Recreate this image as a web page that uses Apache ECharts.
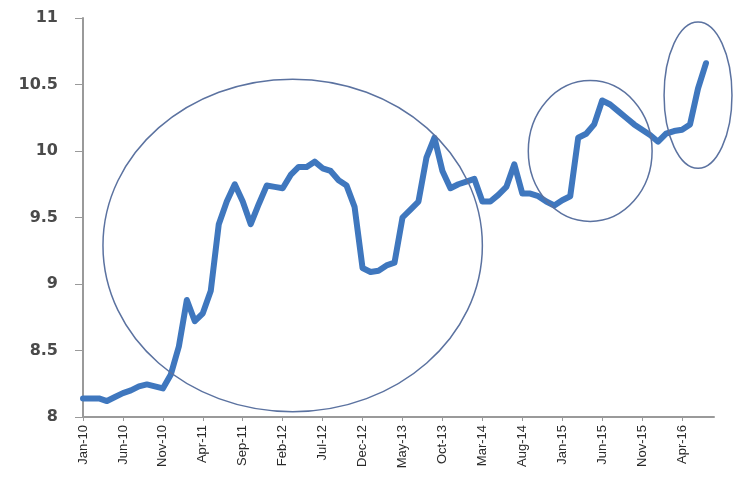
<!DOCTYPE html>
<html>
<head>
<meta charset="utf-8">
<script src="https://cdn.jsdelivr.net/npm/echarts@6/dist/echarts.min.js"></script>
<style>
html,body{margin:0;padding:0;background:#fff;}
#chart{width:734px;height:481px;}
</style>
</head>
<body>
<div id="chart"></div>
<script>
const monthNames = ['Jan','Feb','Mar','Apr','May','Jun','Jul','Aug','Sep','Oct','Nov','Dec'];
const years = ['10','11','12','13','14','15','16'];
const categories = [];
years.forEach(y => monthNames.forEach(m => categories.push(m + '-' + y)));
categories.length = 80; // Jan-10 .. Aug-16

const values = [
  8.14, 8.14, 8.14, 8.12, 8.15, 8.18, 8.20, 8.23, 8.245, 8.23,
  8.215, 8.32, 8.53, 8.88, 8.72, 8.78, 8.95, 9.45, 9.62, 9.75,
  9.62, 9.45, 9.60, 9.74, 9.73, 9.72, 9.82, 9.88, 9.88, 9.92,
  9.87, 9.85, 9.78, 9.74, 9.58, 9.12, 9.09, 9.10, 9.14, 9.16,
  9.50, 9.56, 9.62, 9.95, 10.10, 9.85, 9.72, 9.75, 9.77, 9.79,
  9.62, 9.62, 9.67, 9.73, 9.90, 9.68, 9.68, 9.66, 9.62, 9.59,
  9.63, 9.66, 10.10, 10.13, 10.20, 10.38, 10.35, 10.30, 10.25, 10.20,
  10.16, 10.12, 10.07, 10.13, 10.15, 10.16, 10.20, 10.47, 10.66, null
];

const yTicks = [8, 8.5, 9, 9.5, 10, 10.5, 11];

// annotation ellipses: [centre category index, centre value, radius in months, radius in value units]
const ellipseCentreIdx = [26.25, 63.5, 77];
const ellipseCentreVal = [9.29, 10.0, 10.42];
const ellipseRadIdx = [23.75, 7.75, 4.25];
const ellipseRadVal = [1.25, 0.53, 0.55];

const chart = echarts.init(document.getElementById('chart'));
chart.setOption({
  animation: false,
  backgroundColor: '#fff',
  grid: { left: 83, right: 20, top: 18, bottom: 64, containLabel: false },
  xAxis: {
    type: 'category',
    data: categories,
    boundaryGap: false,
    axisLine: { lineStyle: { color: '#9a9a9a', width: 2 } },
    axisTick: { interval: 4, length: 4, lineStyle: { color: '#9a9a9a' } },
    axisLabel: {
      interval: 4, rotate: 90, margin: 8,
      fontFamily: 'Liberation Sans', fontSize: 13, color: '#2a2a2a'
    },
    splitLine: { show: false }
  },
  yAxis: {
    type: 'value',
    min: yTicks[0], max: yTicks[yTicks.length - 1], interval: 0.5,
    axisLine: { show: true, lineStyle: { color: '#9a9a9a', width: 2 } },
    axisTick: { show: true, length: 8, lineStyle: { color: '#9a9a9a' } },
    axisLabel: {
      margin: 25, fontFamily: 'DejaVu Sans', fontWeight: 'bold',
      fontSize: 16, color: '#4a4a4a'
    },
    splitLine: { show: false }
  },
  series: [{
    type: 'line',
    data: values,
    showSymbol: false,
    smooth: false,
    lineStyle: { color: '#3f77be', width: 6, cap: 'round', join: 'round' },
    z: 3
  }]
});

function drawEllipses() {
  const p0 = chart.convertToPixel({ gridIndex: 0 }, [categories[0], 8]);
  const p1 = chart.convertToPixel({ gridIndex: 0 }, [categories[10], 10]);
  const sx = (p1[0] - p0[0]) / 10;
  const sy = (p1[1] - p0[1]) / 2;
  const els = ellipseCentreIdx.map((ci, k) => ({
    type: 'ellipse',
    shape: {
      cx: p0[0] + ci * sx,
      cy: p0[1] + (ellipseCentreVal[k] - 8) * sy,
      rx: Math.abs(ellipseRadIdx[k] * sx),
      ry: Math.abs(ellipseRadVal[k] * sy)
    },
    style: { fill: null, stroke: '#5b72a0', lineWidth: 1.5 },
    z: 10
  }));
  chart.setOption({ graphic: { elements: els } });
}
drawEllipses();
</script>
</body>
</html>
